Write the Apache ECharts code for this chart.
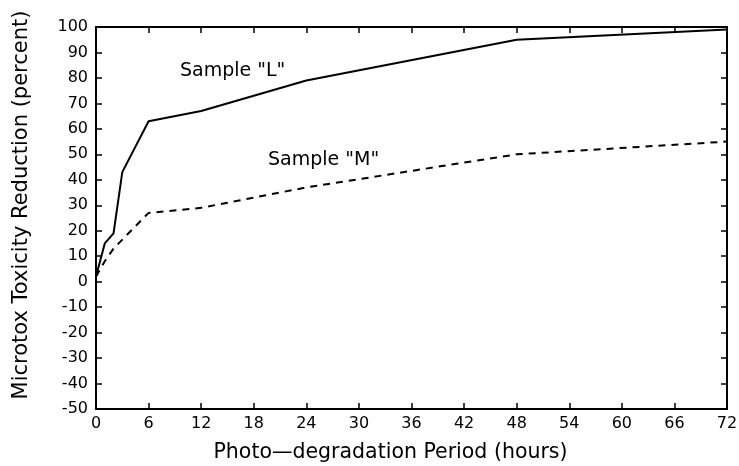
<!DOCTYPE html>
<html><head><meta charset="utf-8">
<script src="https://cdn.jsdelivr.net/npm/echarts@6/dist/echarts.min.js"></script>
<style>html,body{margin:0;padding:0;background:#fff}#c{width:739px;height:466px}</style>
</head><body><div id="c"></div>
<script>
const hoursL = [0, 1, 2, 3, 6, 12, 24, 48, 72];
const sampleL = [2, 15, 19, 43, 63, 67, 79, 95, 99];
const hoursM = [0, 1, 2, 6, 12, 24, 48, 72];
const sampleM = [2, 8, 13, 27, 29, 37, 50, 55];
const labelL = 'Sample "L"';
const labelM = 'Sample "M"';

const font = 'DejaVu Sans';
const chart = echarts.init(document.getElementById('c'));
const axisLine = {show: true, onZero: false, lineStyle: {color: '#000', width: 2}};
const tick = {show: true, inside: true, length: 6, lineStyle: {color: '#000', width: 1.5}};
chart.setOption({
  animation: false,
  grid: {left: 96, right: 12, top: 27, bottom: 57, containLabel: false, outerBoundsMode: 'none'},
  xAxis: [{
    type: 'value', min: 0, max: 72, interval: 6,
    axisLine, axisTick: tick, splitLine: {show: false},
    axisLabel: {color: '#000', fontSize: 16, fontFamily: font, margin: 7},
    name: 'Photo\u2014degradation Period (hours)', nameLocation: 'middle', nameGap: 33,
    nameTextStyle: {color: '#000', fontSize: 20.5, fontFamily: font, padding: [0, 42, 0, 0]}
  }, {
    type: 'value', position: 'top', min: 0, max: 72, interval: 6,
    axisLine, axisTick: tick, axisLabel: {show: false}, splitLine: {show: false}
  }],
  yAxis: [{
    type: 'value', min: -50, max: 100, interval: 10,
    axisLine, axisTick: tick, splitLine: {show: false},
    axisLabel: {color: '#000', fontSize: 16, fontFamily: font, margin: 8},
    name: 'Microtox Toxicity Reduction (percent)', nameLocation: 'middle', nameGap: 64,
    nameTextStyle: {color: '#000', fontSize: 21, fontFamily: font, padding: [0, 0, 0, 26]}
  }, {
    type: 'value', position: 'right', min: -50, max: 100, interval: 10,
    axisLine, axisTick: tick, axisLabel: {show: false}, splitLine: {show: false}
  }],
  series: [{
    type: 'line', data: hoursL.map((h, i) => [h, sampleL[i]]),
    symbol: 'none', lineStyle: {color: '#000', width: 2}
  }, {
    type: 'line', data: hoursM.map((h, i) => [h, sampleM[i]]),
    symbol: 'none', lineStyle: {color: '#000', width: 2, type: [7, 6]}
  }],
  graphic: [
    {type: 'text', left: 180, top: 62, style: {text: labelL, fill: '#000', font: '19px "DejaVu Sans"'}},
    {type: 'text', left: 268, top: 151, style: {text: labelM, fill: '#000', font: '19px "DejaVu Sans"'}}
  ]
});
</script></body></html>
